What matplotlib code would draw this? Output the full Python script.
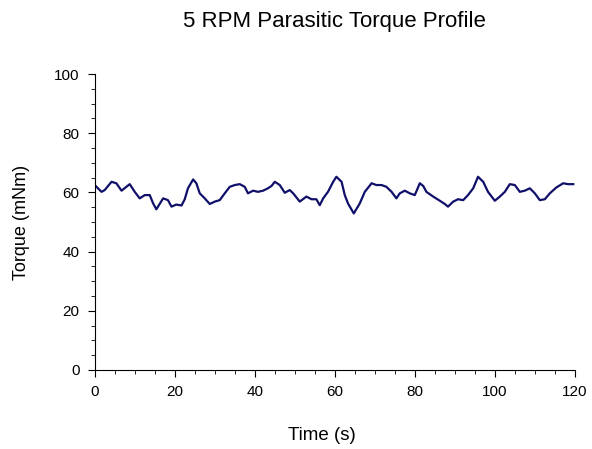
import numpy as np
from matplotlib import pyplot as plt
from matplotlib.ticker import MultipleLocator

plt.rcParams['font.family'] = ['Liberation Sans', 'DejaVu Sans']

# torque profile (time in s, torque in mNm)
time_s = [0, 1.7, 2.5, 4.2, 5.4, 6.7, 8.75, 10, 11.25, 12.5, 13.75, 14.6, 15.4, 17.1,
          18.3, 19.2, 20.4, 21.7, 22.5, 23.3, 24.6, 25.4, 26.25, 27.5, 28.75, 30,
          31.25, 32.5, 33.75, 35, 36.25, 37.5, 38.3, 39.6, 40.8, 42.1, 43.3, 44.2,
          45, 46.25, 47.5, 48.75, 49.6, 51.25, 52.9, 54.2, 55.4, 56.25, 57.1, 58.3,
          59.6, 60.4, 61.7, 62.5, 63.3, 64.75, 66.25, 67.5, 69.2, 70.4, 71.7, 72.9,
          74.2, 75.4, 76.25, 77.5, 78.75, 80, 81.25, 82.1, 82.9, 84.6, 86.25, 87.5,
          88.3, 89.6, 90.8, 92.1, 93.3, 94.6, 95.8, 97.1, 98.3, 100, 101.25, 102.5,
          103.75, 105, 106.25, 107.5, 108.75, 110, 111.25, 112.5, 113.75, 115.4,
          117.1, 118.3, 119.6]
torque = [62.5, 60.2, 60.8, 63.6, 63.1, 60.6, 62.8, 60.2, 58, 59.1, 59.1, 56.3, 54.3, 58,
          57.4, 55.2, 55.9, 55.6, 57.7, 61.4, 64.4, 63.1, 59.7, 58, 56.1, 56.9,
          57.4, 59.7, 61.9, 62.5, 62.8, 61.9, 59.7, 60.6, 60.2, 60.6, 61.4, 62.2,
          63.6, 62.5, 59.9, 60.8, 59.7, 56.9, 58.6, 57.7, 57.7, 55.7, 58, 60.2,
          63.6, 65.3, 63.6, 59.1, 56.3, 52.9, 56.3, 60.2, 63.1, 62.5, 62.5, 61.9,
          60.2, 58, 59.7, 60.6, 59.7, 59.1, 63.1, 62.2, 60.2, 58.6, 57.2, 56.1,
          55.2, 56.9, 57.7, 57.4, 59.1, 61.4, 65.3, 63.6, 60.2, 57.2, 58.6, 60.2,
          62.8, 62.5, 60.2, 60.6, 61.4, 59.7, 57.4, 57.7, 59.7, 61.7,
          63.1, 62.8, 62.8]

fig = plt.figure(figsize=(5.92, 4.49), dpi=100)
ax = fig.add_axes([0.160, 0.176, 0.811, 0.659])

ax.plot(time_s, torque, color='#10106a', linewidth=1.6)

ax.set_xlim(0, 120)
ax.set_ylim(0, 100)
ax.xaxis.set_major_locator(MultipleLocator(20))
ax.xaxis.set_minor_locator(MultipleLocator(5))
ax.yaxis.set_major_locator(MultipleLocator(20))
ax.yaxis.set_minor_locator(MultipleLocator(5))
ax.tick_params(which='major', direction='out', length=5, labelsize=11, pad=6)
ax.tick_params(which='minor', direction='out', length=3)

ax.spines['top'].set_visible(False)
ax.spines['right'].set_visible(False)

ax.set_xlabel('Time (s)', fontsize=13.5, labelpad=20, x=0.473)
ax.set_ylabel('Torque (mNm)', fontsize=13, labelpad=17)
ax.set_title('5 RPM Parasitic Torque Profile', fontsize=16, pad=34)

fig.savefig('out.png', dpi=100)
